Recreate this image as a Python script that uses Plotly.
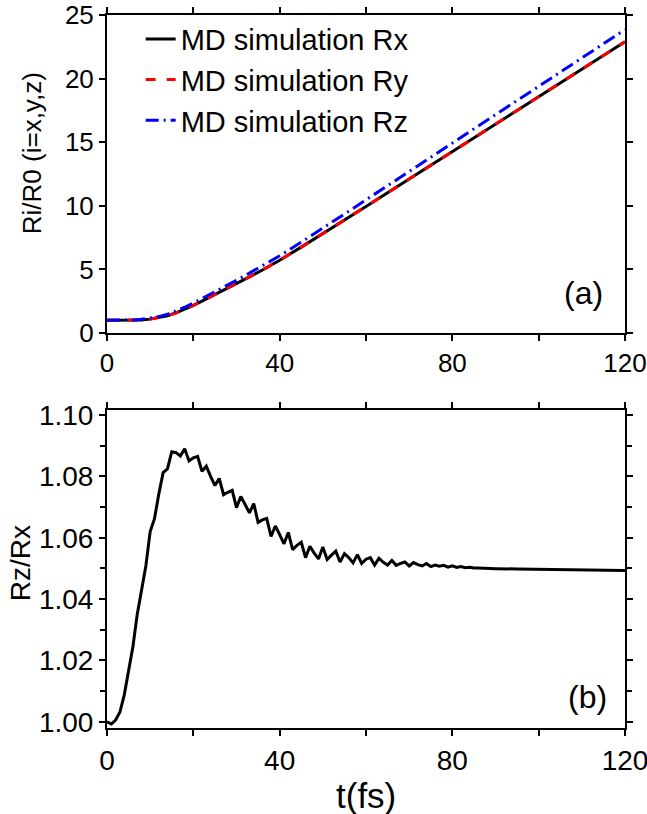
import plotly.graph_objects as go

# ---------------- data ----------------
t_R = [0, 2, 4, 6, 8, 10, 12, 14, 16, 18, 20, 22, 24, 26, 28, 30, 33, 36, 40,
       45, 50, 55, 60, 70, 80, 90, 100, 110, 120]
Rx = [1.00, 1.00, 1.00, 1.005, 1.03, 1.09, 1.20, 1.36, 1.58, 1.86, 2.17, 2.50,
      2.84, 3.18, 3.52, 3.87, 4.41, 4.95, 5.72, 6.75, 7.80, 8.87, 9.95, 12.10,
      14.25, 16.40, 18.55, 20.72, 22.90]
Ry = [1.00, 1.00, 1.00, 1.005, 1.03, 1.09, 1.20, 1.36, 1.58, 1.86, 2.17, 2.50,
      2.84, 3.18, 3.52, 3.87, 4.41, 4.95, 5.72, 6.75, 7.80, 8.87, 9.95, 12.10,
      14.25, 16.40, 18.55, 20.72, 22.90]
Rz = [1.00, 1.00, 1.009, 1.03, 1.074, 1.158, 1.289, 1.472, 1.719, 2.026, 2.357,
      2.704, 3.067, 3.432, 3.783, 4.140, 4.710, 5.276, 6.069, 7.145, 8.225,
      9.349, 10.47, 12.71, 14.93, 17.15, 19.38, 21.61, 23.85]

t_ratio = list(range(0, 88)) + [90, 95, 100, 105, 110, 115, 120]
ratio = [1.0000, 0.9993, 1.0006, 1.0032, 1.0088, 1.0165, 1.0245, 1.0350, 1.0428,
         1.0508, 1.0620, 1.0662, 1.0742, 1.0812, 1.0824, 1.0880, 1.0877, 1.0866,
         1.0890, 1.0850, 1.0860, 1.0865, 1.0816, 1.0833, 1.0800, 1.0770, 1.0793,
         1.0740, 1.0748, 1.0754, 1.0698, 1.0734, 1.0708, 1.0681, 1.0711, 1.0650,
         1.0658, 1.0663, 1.0604, 1.0638, 1.0610, 1.0580, 1.0617, 1.0561, 1.0575,
         1.0585, 1.0535, 1.0572, 1.0550, 1.0531, 1.0570, 1.0529, 1.0543, 1.0556,
         1.0521, 1.0548, 1.0535, 1.0518, 1.0545, 1.0516, 1.0530, 1.0535, 1.0511,
         1.0533, 1.0520, 1.0511, 1.0526, 1.0510, 1.0516, 1.0521, 1.0508, 1.0519,
         1.0512, 1.0508, 1.0516, 1.0506, 1.0511, 1.0507, 1.0510, 1.0504, 1.0508,
         1.0503, 1.0506, 1.0502, 1.0504, 1.0501, 1.0501, 1.0500,
         1.0499, 1.0498, 1.0497, 1.0496, 1.0495, 1.0494, 1.0493]

x_tickvals = [0, 40, 80, 120]
y1_tickvals = [0, 5, 10, 15, 20, 25]
y2_tickvals = [1.00, 1.02, 1.04, 1.06, 1.08, 1.10]
y2_ticktext = ["1.00", "1.02", "1.04", "1.06", "1.08", "1.10"]

FONT = "Arial, Liberation Sans, sans-serif"

fig = go.Figure()
fig.add_trace(go.Scatter(x=t_R, y=Rx, mode="lines", name="MD simulation Rx",
                         line=dict(color="black", width=3), xaxis="x", yaxis="y"))
fig.add_trace(go.Scatter(x=t_R, y=Ry, mode="lines", name="MD simulation Ry",
                         line=dict(color="#ff0000", width=3, dash="10px,11px"),
                         xaxis="x", yaxis="y"))
fig.add_trace(go.Scatter(x=t_R, y=Rz, mode="lines", name="MD simulation Rz",
                         line=dict(color="#0000ff", width=3, dash="13px,5px,2px,5px"),
                         xaxis="x", yaxis="y"))
fig.add_trace(go.Scatter(x=t_ratio, y=ratio, mode="lines", showlegend=False,
                         line=dict(color="black", width=3), xaxis="x2", yaxis="y2"))

axis_common = dict(showgrid=False, zeroline=False, showline=True, linecolor="black",
                   linewidth=2, ticks="outside", ticklen=6, tickwidth=1.5,
                   tickcolor="black", mirror="ticks", automargin=False,
                   ticklabeloverflow="allow")

fig.update_layout(
    width=647, height=814,
    margin=dict(l=107, r=22, t=15, b=86),
    paper_bgcolor="white", plot_bgcolor="white",
    font=dict(family=FONT, color="black"),
    xaxis=dict(domain=[0, 1], anchor="y", range=[0, 120], tickvals=x_tickvals,
               tickfont=dict(size=26),
               minor=dict(dtick=20, ticks="outside", ticklen=6, tickcolor="black", tickwidth=1.5),
               **axis_common),
    yaxis=dict(domain=[0.554, 1.0], anchor="x", range=[0, 25], tickvals=y1_tickvals,
               tickfont=dict(size=26), **axis_common),
    xaxis2=dict(domain=[0, 1], anchor="y2", range=[0, 120], tickvals=x_tickvals,
                tickfont=dict(size=28),
                minor=dict(dtick=20, ticks="outside", ticklen=6, tickcolor="black", tickwidth=1.5),
                **axis_common),
    yaxis2=dict(domain=[0, 0.446], anchor="x2", range=[0.998, 1.1016],
                tickvals=y2_tickvals, ticktext=y2_ticktext, tickfont=dict(size=28),
                minor=dict(dtick=0.01, tick0=1.0, ticks="outside", ticklen=5,
                           tickcolor="black", tickwidth=1.5),
                **axis_common),
    legend=dict(x=0.065, y=1.002, xanchor="left", yanchor="top",
                font=dict(size=29, family=FONT), bgcolor="rgba(0,0,0,0)",
                itemwidth=30),
    showlegend=True,
)

fig.add_annotation(text="Ri/R0 (i=x,y,z)", textangle=-90, xref="paper", yref="paper",
                   x=-0.145, y=0.806, showarrow=False, font=dict(size=26),
                   xanchor="center", yanchor="middle")
fig.add_annotation(text="Rz/Rx", textangle=-90, xref="paper", yref="paper",
                   x=-0.168, y=0.231, showarrow=False, font=dict(size=28),
                   xanchor="center", yanchor="middle")
fig.add_annotation(text="t(fs)", xref="paper", yref="paper", x=0.5, y=-0.094,
                   showarrow=False, font=dict(size=35), xanchor="center", yanchor="middle")
fig.add_annotation(text="(a)", xref="x domain", yref="y domain", x=0.919, y=0.125,
                   showarrow=False, font=dict(size=32), xanchor="center", yanchor="middle")
fig.add_annotation(text="(b)", xref="x2 domain", yref="y2 domain", x=0.927, y=0.097,
                   showarrow=False, font=dict(size=32), xanchor="center", yanchor="middle")

fig.write_html("out.html")
